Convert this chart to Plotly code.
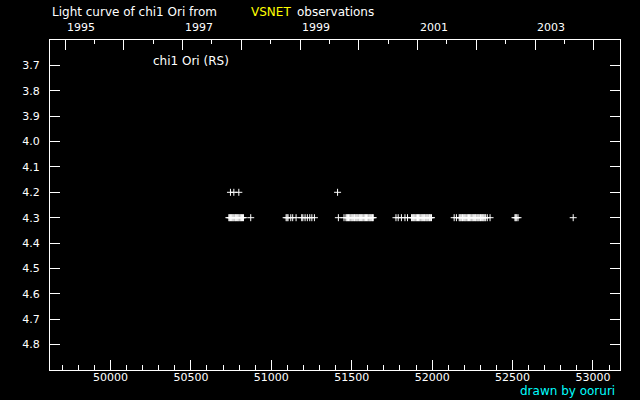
import plotly.graph_objects as go

# Observations (MJD, visual magnitude)
mjd_42 = [50746, 50767, 50798, 51412]
mag_42 = [4.2, 4.2, 4.2, 4.2]

mjd_43 = [
    50736, 50741, 50746, 50752, 50757, 50762, 50767, 50773, 50778, 50783,
    50789, 50794, 50799, 50805, 50810, 50815, 50821, 50827, 50872,
    51092, 51098, 51104, 51121, 51133, 51154,
    51189, 51196, 51210, 51224, 51239, 51252, 51268,
    51417, 51452, 51464, 51469, 51474, 51480, 51485, 51490, 51496, 51501,
    51506, 51512, 51517, 51522, 51528, 51533, 51538, 51544, 51549, 51554,
    51560, 51565, 51570, 51576, 51581, 51586, 51592, 51597, 51602, 51608,
    51613, 51618, 51624, 51629, 51634,
    51775, 51789, 51809, 51831, 51847, 51872, 51877, 51883, 51888, 51893,
    51899, 51904, 51909, 51915, 51920, 51925, 51931, 51936, 51941, 51947,
    51952, 51957, 51963, 51968, 51973, 51979, 51984, 51989, 51996,
    52137, 52151, 52168, 52173, 52178, 52184, 52189, 52194, 52200, 52205,
    52210, 52216, 52221, 52226, 52232, 52237, 52242, 52248, 52253, 52258,
    52264, 52269, 52274, 52280, 52285, 52290, 52296, 52301, 52306, 52312,
    52317, 52322, 52328, 52333, 52343, 52360,
    52515, 52520, 52526, 52534, 52877,
]
mag_43 = [4.3] * len(mjd_43)

# Axis ticks
mjd_major = [50000, 50500, 51000, 51500, 52000, 52500, 53000]
mjd_minor = list(range(49700, 53200, 100))
mag_ticks = [3.7, 3.8, 3.9, 4.0, 4.1, 4.2, 4.3, 4.4, 4.5, 4.6, 4.7, 4.8]
mag_labels = ["3.7", "3.8", "3.9", "4.0", "4.1", "4.2", "4.3", "4.4", "4.5", "4.6", "4.7", "4.8"]

# Top axis: years (MJD of Jan 1) and mid-year ticks
year_mjd = [49718, 50083, 50449, 50814, 51179, 51544, 51910, 52275, 52640, 53005]
halfyear_mjd = [49899, 50265, 50630, 50995, 51360, 51726, 52091, 52456, 52821]
year_label_mjd = [49718, 50449, 51179, 51910, 52640]
year_labels = ["1995", "1997", "1999", "2001", "2003"]

FONT = "DejaVu Sans"
WHITE = "#ffffff"

fig = go.Figure()
fig.add_trace(go.Scatter(
    x=mjd_43 + mjd_42, y=mag_43 + mag_42, mode="markers",
    marker=dict(symbol="cross-thin", size=5, color=WHITE,
                line=dict(width=1, color=WHITE)),
    showlegend=False, hoverinfo="skip"))
# invisible trace on top axis
fig.add_trace(go.Scatter(x=[49624, 53168], y=[4.3, 4.3], xaxis="x2", mode="markers",
                         marker=dict(opacity=0), showlegend=False, hoverinfo="skip"))

XR = [49624, 53168]
fig.update_layout(
    width=640, height=400,
    paper_bgcolor="black", plot_bgcolor="black",
    margin=dict(l=50, r=20, t=40, b=30),
    font=dict(family=FONT, size=11, color=WHITE),
    xaxis=dict(range=XR, showgrid=False, zeroline=False,
               showline=True, linecolor=WHITE, linewidth=1, mirror=True,
               tickmode="array", tickvals=mjd_major,
               ticktext=[str(v) for v in mjd_major],
               ticks="inside", ticklen=10, tickwidth=1, tickcolor=WHITE,
               ticklabelstandoff=-3,
               minor=dict(tickmode="array", tickvals=mjd_minor, ticks="inside",
                          ticklen=5, tickwidth=1, tickcolor=WHITE, showgrid=False),
               tickfont=dict(family=FONT, size=11, color=WHITE)),
    xaxis2=dict(range=XR, overlaying="x", side="top", showgrid=False,
                zeroline=False, showline=False, showticklabels=False,
                tickmode="array", tickvals=year_mjd,
                ticks="inside", ticklen=10, tickwidth=1, tickcolor=WHITE,
                minor=dict(tickmode="array", tickvals=halfyear_mjd, ticks="inside",
                           ticklen=4, tickwidth=1, tickcolor=WHITE, showgrid=False)),
    yaxis=dict(range=[4.9, 3.6], showgrid=False, zeroline=False,
               showline=True, linecolor=WHITE, linewidth=1, mirror="ticks",
               tickmode="array", tickvals=mag_ticks, ticktext=mag_labels,
               ticks="inside", ticklen=10, tickwidth=1, tickcolor=WHITE,
               ticklabelstandoff=7,
               tickfont=dict(family=FONT, size=11, color=WHITE)),
)

ann = [
    dict(text="Light curve of chi1 Ori from", x=0.0, y=1.0839, xanchor="left"),
    dict(text="VSNET", x=0.349, y=1.0839, xanchor="left", font=dict(color="#ffff00")),
    dict(text="observations", x=0.4298, y=1.0839, xanchor="left"),
    dict(text="chi1 Ori (RS)", x=0.1767, y=0.9373, xanchor="left"),
    dict(text="drawn by ooruri", x=0.9947, y=-0.0636, xanchor="right",
         font=dict(color="#00ffff")),
]
for a in ann:
    f = dict(family=FONT, size=12, color=WHITE)
    f.update(a.pop("font", {}))
    fig.add_annotation(xref="paper", yref="paper", yanchor="middle",
                       showarrow=False, font=f, **a)

for xv, lab in zip(year_label_mjd, year_labels):
    fig.add_annotation(xref="x", yref="paper", x=xv, y=1.0385, text=lab,
                       xanchor="left", yanchor="middle", showarrow=False,
                       font=dict(family=FONT, size=11, color=WHITE))

fig.write_html("out.html", config={"displayModeBar": False},
               post_script="document.body.style.margin='0';document.body.style.background='black';")
